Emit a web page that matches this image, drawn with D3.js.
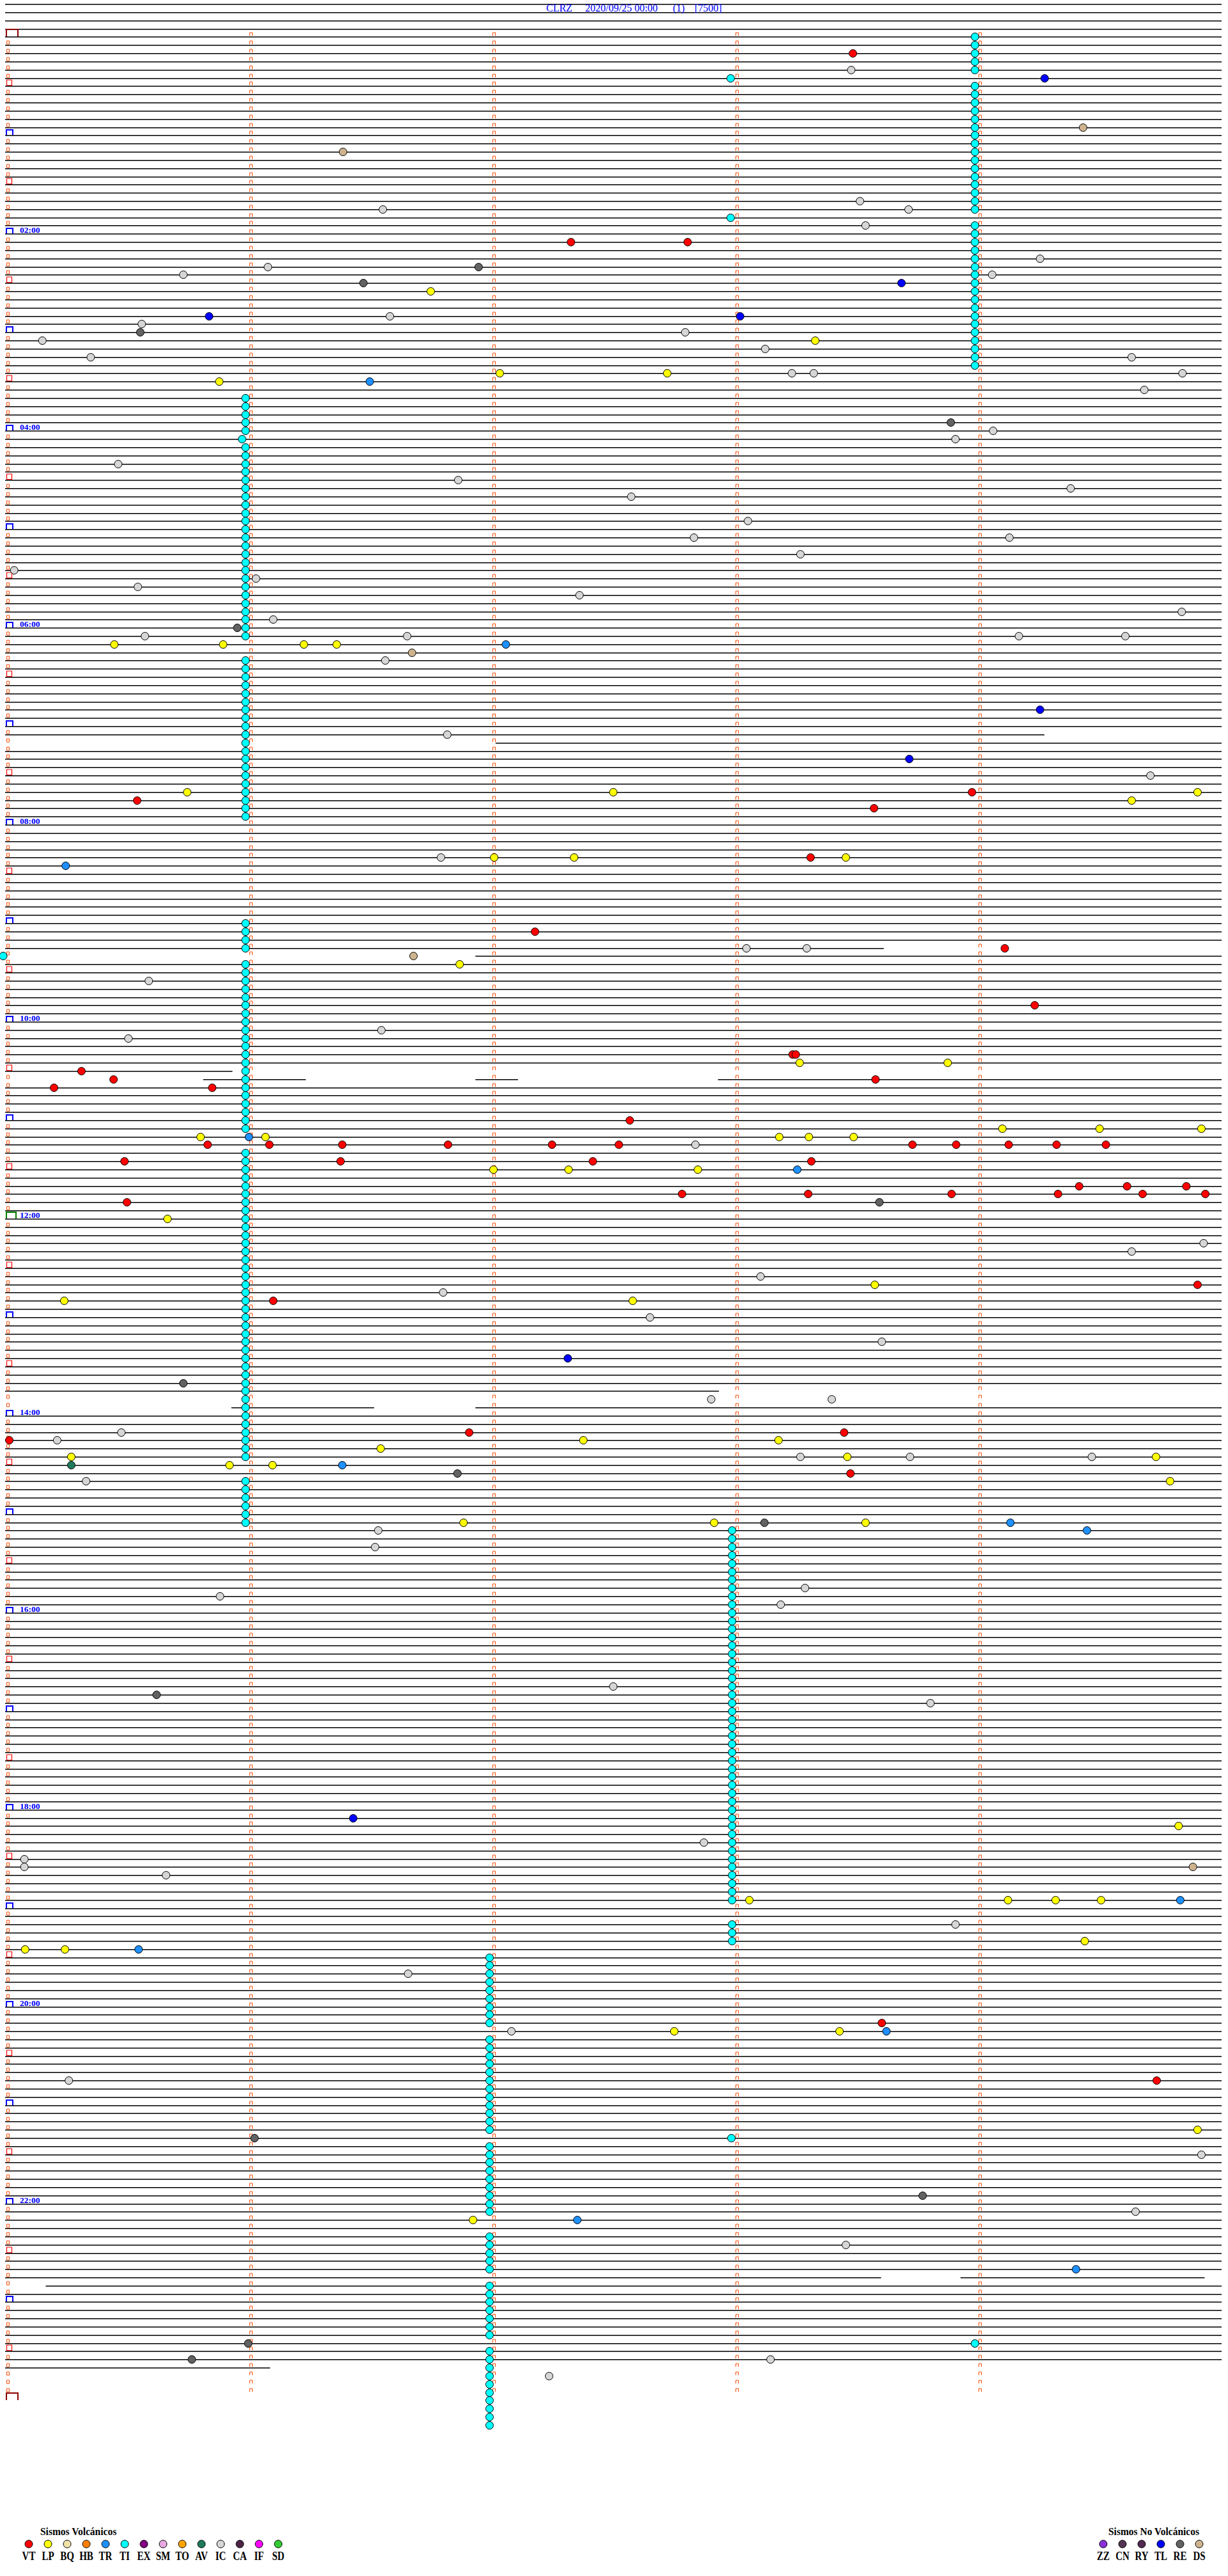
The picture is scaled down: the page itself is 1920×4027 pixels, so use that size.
<!DOCTYPE html>
<html><head><meta charset="utf-8">
<script src="https://cdn.jsdelivr.net/npm/d3@7"></script>
<style>body{margin:0;background:#fff}svg{display:block;background:#fff}</style>
</head><body>
<svg id="c" width="1920" height="4027"></svg>
<script>
// ---------- data ----------
const titleParts = ["CLRZ", "2020/09/25 00:00", "(1)", "[7500]"];
const titleX = [854, 915, 1052, 1086];
const hourLabels = ["02:00","04:00","06:00","08:00","10:00","12:00","14:00","16:00","18:00","20:00","22:00"];
// rows are 5-minute lines, row 0 = 00:00, row 288 = 24:00
// partial traces: [row, fromMinute, toMinute]
const traceSegments = [[85,0,4.271],[86,2.018,5],[111,0,3.61],[112,1.935,5],[126,0,0.93],
  [127,0.815,1.232],[127,1.935,2.105],[127,2.933,5],[165,0,2.932],[167,0.931,1.513],[167,1.935,5],
  [273,0,3.599],[273,3.931,4.93],[274,0.167,5],[284,0,1.085]];
const noTraceRows = [166,285,286,287];

// events: [row, minute within row]
const VT = [[2,3.483],[25,2.323],[25,2.803],[92,3.973],[93,0.538],[94,3.570],[100,3.309],[109,2.175],[111,4.108],[118,4.231],[124,3.235],[124,3.248],[126,0.309],[127,0.441],[127,3.576],[128,0.196],[128,0.847],[132,2.565],[135,0.828],[135,1.082],[135,1.382],[135,1.817],[135,2.245],[135,2.520],[135,3.728],[135,3.908],[135,4.124],[135,4.321],[135,4.524],[137,0.486],[137,1.375],[137,2.413],[137,3.312],[140,4.414],[140,4.611],[140,4.855],[141,2.780],[141,3.299],[141,3.889],[141,4.327],[141,4.675],[141,4.933],[142,0.496],[152,4.901],[154,1.098],[170,1.904],[170,3.447],[171,0.012],[175,3.473],[242,3.602],[249,4.733]];
const LP = [[31,1.746],[37,3.328],[41,2.030],[41,2.719],[42,0.876],[74,0.444],[74,0.892],[74,1.224],[74,1.359],[92,0.744],[92,2.497],[92,4.901],[93,4.630],[100,2.007],[100,2.336],[100,3.454],[113,1.865],[125,3.264],[125,3.873],[133,4.098],[133,4.498],[133,4.917],[134,0.799],[134,1.066],[134,3.180],[134,3.302],[134,3.486],[138,2.004],[138,2.313],[138,2.845],[144,0.663],[152,3.573],[154,0.238],[154,2.577],[171,2.374],[171,3.177],[172,1.540],[173,0.267],[173,3.460],[173,4.730],[174,0.918],[174,1.095],[176,4.788],[181,1.881],[181,2.912],[181,3.535],[218,4.823],[227,3.057],[227,4.121],[227,4.317],[227,4.504],[232,4.437],[233,0.077],[233,0.241],[243,2.748],[243,3.428],[255,4.901],[266,1.920]];
const IC = [[4,3.476],[20,3.512],[21,3.712],[21,1.549],[23,3.535],[27,4.253],[28,1.076],[29,0.728],[29,4.056],[34,1.578],[35,0.557],[36,2.793],[37,0.148],[38,3.122],[39,0.347],[39,4.630],[41,3.232],[41,3.322],[41,4.839],[43,4.682],[48,4.060],[49,3.905],[52,0.460],[54,1.859],[55,4.379],[56,2.571],[59,3.051],[61,2.829],[61,4.127],[63,3.267],[65,0.032],[66,1.027],[67,0.541],[68,2.358],[70,4.836],[71,1.098],[73,0.570],[73,1.649],[73,4.166],[73,4.604],[76,1.559],[85,1.814],[90,4.707],[100,1.788],[111,3.045],[111,3.293],[115,0.586],[121,1.543],[122,0.502],[135,2.835],[147,4.926],[148,4.630],[151,3.103],[153,1.797],[156,2.648],[159,3.602],[166,2.900],[166,3.396],[170,0.473],[171,0.209],[173,3.267],[173,3.718],[173,4.466],[176,0.328],[182,1.530],[184,1.517],[189,3.286],[190,0.879],[191,3.186],[201,2.497],[203,3.802],[220,2.870],[222,0.074],[223,0.074],[224,0.657],[230,3.905],[236,1.653],[243,2.078],[249,0.257],[258,4.917],[265,4.646],[269,3.454],[283,3.144],[285,2.233]];
const TR = [[42,1.495],[74,2.055],[101,0.244],[134,0.998],[138,3.254],[174,1.382],[181,4.131],[182,4.446],[227,4.830],[233,0.544],[243,3.621],[266,2.349],[272,4.401]];
const TL = [[5,4.272],[30,3.683],[34,0.834],[34,3.019],[82,4.253],[88,3.715],[161,2.310],[217,1.427]];
const RE = [[28,1.943],[30,1.469],[36,0.551],[47,3.886],[72,0.950],[142,3.592],[164,0.728],[175,1.856],[181,3.119],[202,0.618],[256,1.021],[263,3.770],[281,0.995],[283,0.763]];
const DS = [[11,4.430],[14,1.385],[75,1.669],[112,1.675],[223,4.882]];
const AV = [[174,0.267]];
const TI = [
 [0,3.985],[1,3.985],[2,3.985],[3,3.985],[4,3.985],[5,2.980],[6,3.985],[7,3.985],[8,3.985],[9,3.985],[10,3.985],[11,3.985],[12,3.985],[13,3.985],[14,3.985],[15,3.985],[16,3.985],[17,3.985],[18,3.985],[19,3.985],[20,3.985],[21,3.985],[22,2.980],[23,3.985],[24,3.985],[25,3.985],[26,3.985],[27,3.985],[28,3.985],[29,3.985],[30,3.985],[31,3.985],[32,3.985],[33,3.985],[34,3.985],[35,3.985],[36,3.985],[37,3.985],[38,3.985],[39,3.985],[40,3.985],
 [44,0.984],[45,0.984],[46,0.984],[47,0.984],[48,0.984],[49,0.970],[50,0.984],[51,0.984],[52,0.984],[53,0.984],[54,0.984],[55,0.984],[56,0.984],[57,0.984],[58,0.984],[59,0.984],[60,0.984],[61,0.984],[62,0.984],[63,0.984],[64,0.984],[65,0.984],[66,0.984],[67,0.984],[68,0.984],[69,0.984],[70,0.984],[71,0.984],[72,0.984],[73,0.984],
 [76,0.984],[77,0.984],[78,0.984],[79,0.984],[80,0.984],[81,0.984],[82,0.984],[83,0.984],[84,0.984],[85,0.984],[86,0.984],[87,0.984],[88,0.984],[89,0.984],[90,0.984],[91,0.984],[92,0.984],[93,0.984],[94,0.984],[95,0.984],
 [108,0.984],[109,0.984],[110,0.984],[111,0.984],[112,-0.013],[113,0.984],[114,0.984],[115,0.984],[116,0.984],[117,0.984],[118,0.984],[119,0.984],[120,0.984],[121,0.984],[122,0.984],[123,0.984],[124,0.984],[125,0.984],[126,0.984],[127,0.984],[128,0.984],[129,0.984],[130,0.984],[131,0.984],[132,0.984],[133,0.984],
 [136,0.984],[137,0.984],[138,0.984],[139,0.984],[140,0.984],[141,0.984],[142,0.984],[143,0.984],[144,0.984],[145,0.984],[146,0.984],[147,0.984],[148,0.984],[149,0.984],[150,0.984],[151,0.984],[152,0.984],[153,0.984],[154,0.984],[155,0.984],[156,0.984],[157,0.984],[158,0.984],[159,0.984],[160,0.984],[161,0.984],[162,0.984],[163,0.984],[164,0.984],[165,0.984],[166,0.984],[167,0.984],[168,0.984],[169,0.984],[170,0.984],[171,0.984],[172,0.984],[173,0.984],
 [176,0.984],[177,0.984],[178,0.984],[179,0.984],[180,0.984],[181,0.984],
 [182,2.986],[183,2.986],[184,2.986],[185,2.986],[186,2.986],[187,2.986],[188,2.986],[189,2.986],[190,2.986],[191,2.986],[192,2.986],[193,2.986],[194,2.986],[195,2.986],[196,2.986],[197,2.986],[198,2.986],[199,2.986],[200,2.986],[201,2.986],[202,2.986],[203,2.986],[204,2.986],[205,2.986],[206,2.986],[207,2.986],[208,2.986],[209,2.986],[210,2.986],[211,2.986],[212,2.986],[213,2.986],[214,2.986],[215,2.986],[216,2.986],[217,2.986],[218,2.986],[219,2.986],[220,2.986],[221,2.986],[222,2.986],[223,2.986],[224,2.986],[225,2.986],[226,2.986],[227,2.986],
 [230,2.986],[231,2.986],[232,2.986],
 [234,1.988],[235,1.988],[236,1.988],[237,1.988],[238,1.988],[239,1.988],[240,1.988],[241,1.988],[242,1.988],
 [244,1.988],[245,1.988],[246,1.988],[247,1.988],[248,1.988],[249,1.988],[250,1.988],[251,1.988],[252,1.988],[253,1.988],[254,1.988],[255,1.988],[256,2.983],
 [257,1.988],[258,1.988],[259,1.988],[260,1.988],[261,1.988],[262,1.988],[263,1.988],[264,1.988],[265,1.988],
 [268,1.988],[269,1.988],[270,1.988],[271,1.988],[272,1.988],
 [274,1.988],[275,1.988],[276,1.988],[277,1.988],[278,1.988],[279,1.988],[280,1.988],[281,3.985],
 [282,1.988],[283,1.988],[284,1.988],[285,1.988],[286,1.988],[287,1.988],[288,1.988],[289,1.988],[290,1.988],[291,1.988]];

const volcTypes  = ["VT","LP","BQ","HB","TR","TI","EX","SM","TO","AV","IC","CA","IF","SD"];
const volcColors = ["#ff0000","#ffff00","#f0e2a8","#ff8000","#1e90ff","#00ffff","#800080","#e8a8e0","#ffa500","#1f7a5c","#d6d6d6","#4a2444","#ff00ff","#33cc33"];
const nonVolcTypes  = ["ZZ","CN","RY","TL","RE","DS"];
const nonVolcColors = ["#8a30d8","#543454","#522a52","#0000ff","#626262","#cdb38e"];

// ---------- drawing ----------
const svg = d3.select("#c");
const x = d3.scaleLinear().domain([0, 5]).range([10, 1910]);
const y = d3.scaleLinear().domain([0, 288]).range([57.4, 57.4 + 12.83 * 288]);
const yr = k => Math.round(y(k)) + 0.5;
const serif = "'Liberation Serif','Times New Roman',serif";

// traces
const segRows = new Set(traceSegments.map(d => d[0]));
const lines = [];
for (let k = -4; k <= 287; k++) {
  if (noTraceRows.includes(k) || segRows.has(k)) continue;
  lines.push([k, 0, 5]);
}
traceSegments.forEach(s => lines.push(s));
svg.append("g").selectAll("line").data(lines).join("line")
  .attr("x1", d => x(d[1]) - 2).attr("x2", d => x(d[2]))
  .attr("y1", d => yr(d[0]) + 0.3).attr("y2", d => yr(d[0]) + 0.3)
  .attr("stroke", "#000").attr("stroke-width", 1.6);

// minute markers
const marks = [];
for (let k = 0; k <= 287; k++) for (let m = 0; m <= 4; m++) {
  if (m === 0 && k % 6 === 0) continue;
  marks.push([k, m]);
}
svg.append("g").selectAll("path").data(marks).join("path")
  .attr("d", d => {
    const x0 = Math.round(x(d[1])) + 0.5, yb = yr(d[0]) - 1.5;
    return d[1] === 0 ? `M${x0},${yb}V${yb-5}H${x0+4}V${yb}Z` : `M${x0},${yb}V${yb-5}H${x0+4}V${yb}`;
  })
  .attr("fill", "none").attr("stroke", "#ff4a00").attr("stroke-width", 1);

// hour / half-hour boxes
const boxes = [];
for (let k = 0; k <= 288; k += 6) boxes.push(k);
svg.append("g").selectAll("path").data(boxes).join("path")
  .attr("d", k => {
    const yb = yr(k) - 0.5;
    if (k === 0 || k === 288) return `M10,${yb}V${yb-11}H28V${yb}`;
    if (k === 144) return `M10,${yb}V${yb-10}H25V${yb}`;
    if (k % 12 === 0) return `M10,${yb}V${yb-8}H20V${yb}`;
    return `M10.5,${yb-0.5}V${yb-9}H18.5V${yb-0.5}Z`;
  })
  .attr("fill", "none")
  .attr("stroke", k => (k === 0 || k === 288) ? "#8b0000" : k === 144 ? "#008000" : k % 12 === 0 ? "#0000ff" : "#ff0000")
  .attr("stroke-width", k => (k % 12 === 0) ? 2 : 1.2);

// hour labels
svg.append("g").selectAll("text").data(hourLabels).join("text")
  .attr("x", 31).attr("y", d => yr(+d.slice(0, 2) * 12) - 1.5)
  .attr("font-family", serif).attr("font-weight", "bold").attr("font-size", 13.5)
  .attr("fill", "#0000ff").text(d => d);

// title
svg.append("g").selectAll("text").data(titleParts).join("text")
  .attr("x", (d, i) => titleX[i]).attr("y", 18)
  .attr("font-family", serif).attr("font-size", 16).attr("fill", "#0000ff").text(d => d);

// events
const colorOf = {};
volcTypes.forEach((t, i) => colorOf[t] = volcColors[i]);
nonVolcTypes.forEach((t, i) => colorOf[t] = nonVolcColors[i]);
const series = [["TI", TI], ["IC", IC], ["RE", RE], ["DS", DS], ["TL", TL], ["TR", TR], ["AV", AV], ["LP", LP], ["VT", VT]];
const evG = svg.append("g");
series.forEach(([t, arr]) => {
  evG.append("g").selectAll("circle").data(arr).join("circle")
    .attr("cx", d => x(d[1])).attr("cy", d => yr(d[0]))
    .attr("r", 6).attr("fill", colorOf[t]).attr("stroke", "#000").attr("stroke-width", 1);
});

// legends
function legend(types, x0, x1, titleText, titleX) {
  const lx = d3.scaleLinear().domain([0, types.length - 1]).range([x0, x1]);
  const g = svg.append("g");
  g.append("text").attr("transform", `translate(${titleX},3963) scale(1,1.12)`)
    .attr("font-family", serif).attr("font-weight", "bold").attr("font-size", 15.5)
    .attr("fill", "#000").text(titleText);
  g.selectAll("circle").data(types).join("circle")
    .attr("cx", (d, i) => lx(i)).attr("cy", 3977).attr("r", 6)
    .attr("fill", d => colorOf[d]).attr("stroke", "#000").attr("stroke-width", 1);
  g.selectAll("text.lab").data(types).join("text").attr("class", "lab")
    .attr("transform", (d, i) => `translate(${lx(i)},4002) scale(1,1.22)`)
    .attr("text-anchor", "middle").attr("font-family", serif).attr("font-weight", "bold")
    .attr("font-size", 15).attr("fill", "#000").text(d => d);
}
legend(volcTypes, 45, 435, "Sismos Volcánicos", 63);
legend(nonVolcTypes, 1725, 1875, "Sismos No Volcánicos", 1733);
</script>
</body></html>
